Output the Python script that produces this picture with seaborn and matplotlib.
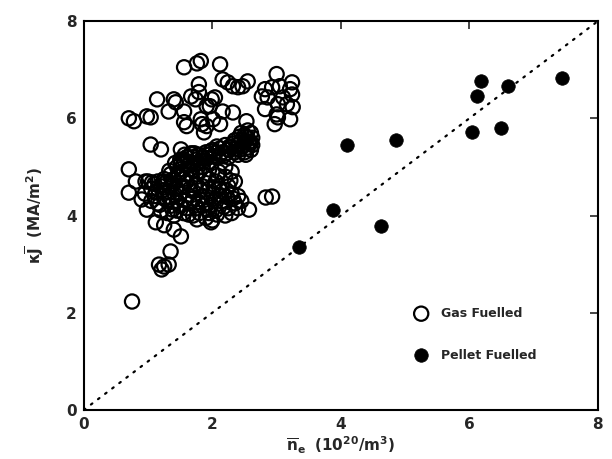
import matplotlib
matplotlib.use("Agg")
import matplotlib.pyplot as plt
import seaborn as sns
import pandas as pd

# Gas fuelled (open circles)
gas_x = [0.70, 0.78, 0.98, 1.04, 1.14, 1.32, 1.40, 1.43, 1.56, 1.56, 1.60, 1.67, 1.74, 1.79, 1.82, 1.84, 1.87, 1.91, 1.99,
         1.56, 1.76, 1.82, 1.79,
         2.12, 2.16, 2.24, 2.32, 2.40, 2.47, 2.55, 2.04, 1.96, 2.16, 2.32, 2.01, 2.12, 1.91, 2.53,
         3.00, 2.82, 2.93, 3.05, 3.24, 3.21, 2.77, 2.86, 3.10, 3.24, 2.82, 3.02, 3.16, 3.25, 3.00, 3.21, 2.97, 3.02,
         1.04, 1.20, 0.70, 0.70, 0.81, 0.90, 0.98, 1.12, 0.96, 1.06, 1.25, 1.51, 1.56, 1.51, 1.67,
         1.25, 1.40, 1.51, 1.35, 1.17, 1.25, 1.32, 1.21, 2.57, 2.83, 2.93, 1.98, 1.76, 0.75,
         1.45, 1.55, 1.65, 1.75, 1.85, 1.95, 2.05, 2.15, 2.25, 2.30, 2.40, 2.50, 2.55, 2.60, 2.50, 2.45,
         2.35, 2.25, 2.40, 2.55, 2.60, 2.20, 2.00, 1.90, 1.80, 1.70, 1.60, 1.50, 2.10, 1.95, 2.60, 2.50,
         1.05, 1.10, 1.15, 1.20, 1.25, 1.30, 1.35, 1.40, 1.45, 1.50, 1.55, 1.60, 1.65, 1.70, 1.75, 1.80,
         1.85, 1.90, 1.95, 2.00, 2.05, 2.10, 2.15, 2.20, 2.25, 2.30, 2.35, 1.25, 1.35, 1.50, 1.65, 1.80,
         1.95, 2.10, 1.20, 1.40, 1.55, 1.75, 1.90, 2.00, 1.30, 1.45, 1.60, 1.70, 1.85, 2.05, 2.15, 2.25,
         2.40, 2.45, 1.15, 1.35, 1.55, 1.75, 1.95, 2.05, 1.65, 1.85, 1.50, 1.30, 1.10, 2.30, 2.20, 1.95,
         1.70, 1.45, 2.40, 2.35, 2.30, 2.20, 1.85, 1.60, 1.40, 1.00, 1.05, 0.95]
gas_y = [6.00, 5.94, 6.04, 6.02, 6.39, 6.14, 6.39, 6.33, 6.14, 5.92, 5.84, 6.45, 6.39, 6.54, 5.98, 5.88, 5.71, 6.25, 6.39,
         7.05, 7.13, 7.18, 6.70,
         7.11, 6.80, 6.74, 6.66, 6.64, 6.66, 6.76, 6.43, 6.25, 6.14, 6.12, 5.98, 5.88, 5.84, 5.94,
         6.91, 6.60, 6.64, 6.66, 6.74, 6.60, 6.45, 6.43, 6.43, 6.49, 6.19, 6.29, 6.29, 6.23, 6.08, 5.98, 5.88, 6.02,
         5.46, 5.36, 4.95, 4.47, 4.70, 4.33, 4.12, 3.86, 4.70, 4.68, 4.70, 5.36, 5.15, 5.09, 5.26,
         3.80, 3.71, 3.57, 3.26, 2.99, 2.95, 2.99, 2.89, 4.12, 4.37, 4.39, 3.86, 3.92, 2.23,
         5.00, 5.05, 5.10, 5.15, 5.20, 5.25, 5.30, 5.30, 5.35, 5.40, 5.45, 5.50, 5.60, 5.70, 5.65, 5.55,
         5.30, 5.20, 5.25, 5.40, 5.50, 5.45, 5.35, 5.30, 5.25, 5.20, 5.20, 5.15, 5.20, 5.10, 5.35, 5.30,
         4.55, 4.40, 4.25, 4.60, 4.35, 4.50, 4.20, 4.65, 4.30, 4.45, 4.75, 4.15, 4.55, 4.35, 4.85, 4.05,
         4.60, 4.25, 4.75, 4.45, 4.10, 4.60, 4.30, 4.80, 4.15, 4.45, 4.25, 4.75, 4.85, 4.95, 4.95, 4.90,
         4.95, 4.90, 4.10, 4.00, 4.05, 4.15, 3.95, 3.90, 4.05, 4.55, 4.70, 4.50, 4.40, 4.70, 4.50, 4.60,
         4.15, 4.30, 4.70, 4.60, 4.60, 4.65, 4.55, 4.35, 4.25, 4.20, 4.20, 4.30, 4.65, 4.05, 4.00, 4.05,
         4.00, 4.10, 4.40, 4.70, 4.90, 5.00, 5.00, 4.85, 4.75, 4.70, 4.30, 4.45]

# Additional gas fuelled points in the densely packed band and core
gas_band_x = [1.42, 1.52, 1.62, 1.72, 1.82, 1.92, 2.02, 2.12, 2.22, 2.32, 2.42, 2.52, 2.62, 2.47, 2.57,
              2.37, 2.27, 2.17, 2.07, 1.97, 1.87, 1.77, 1.67, 1.57, 2.45, 2.55, 2.35, 2.62, 2.52, 2.42]
gas_band_y = [5.08, 5.12, 5.02, 5.28, 5.12, 5.18, 5.22, 5.38, 5.28, 5.48, 5.35, 5.62, 5.60, 5.42, 5.52,
              5.38, 5.42, 5.22, 5.42, 5.32, 5.12, 5.08, 5.28, 5.25, 5.70, 5.75, 5.55, 5.45, 5.25, 5.62]
gas_core_x = [1.12, 1.22, 1.32, 1.42, 1.52, 1.62, 1.72, 1.82, 1.92, 2.02, 2.12, 2.22, 2.32, 1.18, 1.28, 1.38,
              1.48, 1.58, 1.68, 1.78, 1.88, 1.98, 2.08, 2.18, 2.28, 1.33, 1.47, 1.63, 1.77, 1.93, 2.07, 2.23]
gas_core_y = [4.48, 4.52, 4.38, 4.42, 4.58, 4.42, 4.62, 4.52, 4.38, 4.58, 4.42, 4.52, 4.35, 4.22, 4.68, 4.12,
              4.82, 4.32, 4.78, 4.28, 4.82, 4.22, 4.82, 4.18, 4.72, 4.92, 4.88, 4.02, 4.98, 4.12, 4.02, 4.38]

# Pellet fuelled (filled circles)
pellet_x = [3.35, 3.87, 4.09, 4.63, 4.85, 6.04, 6.12, 6.18, 6.49, 6.60, 7.44]
pellet_y = [3.35, 4.12, 5.46, 3.79, 5.55, 5.71, 6.45, 6.76, 5.81, 6.66, 6.82]

ticks = [0, 2, 4, 6, 8]

gas = pd.DataFrame({"x": gas_x + gas_band_x + gas_core_x,
                    "y": gas_y + gas_band_y + gas_core_y})
pel = pd.DataFrame({"x": pellet_x, "y": pellet_y})

sns.set_style("white")
plt.rcParams["font.family"] = ["DejaVu Sans"]
plt.rcParams["mathtext.fontset"] = "dejavusans"

fig = plt.figure(figsize=(6.12, 4.59), dpi=100)
ax = fig.add_axes([0.137, 0.107, 0.84, 0.847])

ax.plot([0, 8], [0, 8], color="black", lw=1.6, ls=(0, (0.8, 3.2)), dash_capstyle="round", zorder=1)

sns.scatterplot(data=gas, x="x", y="y", ax=ax, s=105, facecolor="none",
                edgecolor="black", linewidth=1.6, label="Gas Fuelled", zorder=3)
sns.scatterplot(data=pel, x="x", y="y", ax=ax, s=95, color="black",
                edgecolor="black", linewidth=0.5, label="Pellet Fuelled", zorder=4)

ax.set_xlim(0, 8)
ax.set_ylim(0, 8)
ax.set_xticks(ticks)
ax.set_yticks(ticks)
ax.set_xticklabels([str(t) for t in ticks], fontsize=11, fontweight="bold")
ax.set_yticklabels([str(t) for t in ticks], fontsize=11, fontweight="bold")
ax.tick_params(direction="in", length=6, width=1.2, top=True, right=True, pad=5)
for sp in ax.spines.values():
    sp.set_linewidth(1.5)
    sp.set_color("black")

ax.set_xlabel(r"$\mathbf{\overline{n}_e}$  $\mathbf{(10^{20}/m^3)}$", fontsize=11, labelpad=2)
ax.set_ylabel(r"$\mathbf{\kappa\overline{J}}$  $\mathbf{(MA/m^2)}$", fontsize=11, labelpad=14)

leg = ax.legend(loc="lower left", bbox_to_anchor=(0.61, 0.095), frameon=False,
                labelspacing=2.3, handletextpad=0.6, prop={"size": 9, "weight": "bold"})

fig.savefig("out.png", dpi=100)
